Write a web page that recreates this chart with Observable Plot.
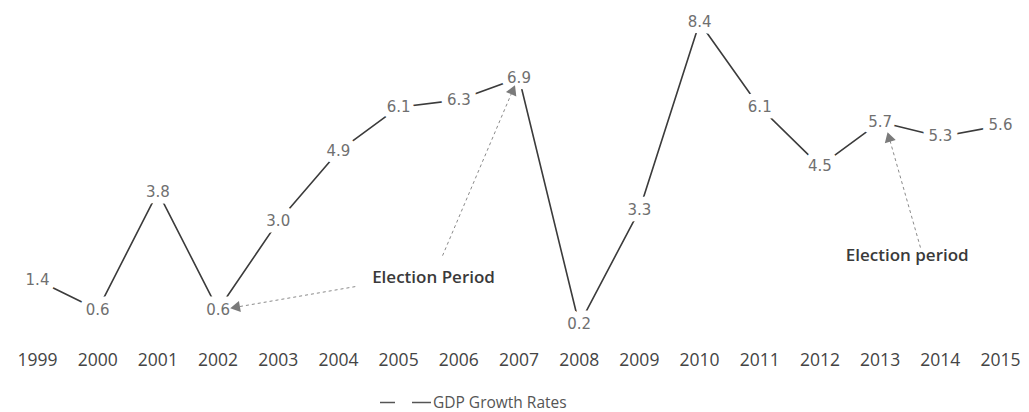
<!DOCTYPE html>
<html>
<head>
<meta charset="utf-8">
<script src="https://cdn.jsdelivr.net/npm/d3@7"></script>
<script src="https://cdn.jsdelivr.net/npm/@observablehq/plot@0.6"></script>
<style>
  body { margin: 0; background: #fff; }
  #legend { position: relative; width: 1029px; height: 20px; font: 15.5px "Open Sans", sans-serif; color: #555; }
  #legend svg { position: absolute; left: 376px; top: 0; }
  #legend span { position: absolute; left: 433px; top: 0; line-height: 20px; }
</style>
</head>
<body>
<div id="chart"></div>
<div id="legend">
  <svg width="60" height="20"><line x1="4" x2="19" y1="10.5" y2="10.5" stroke="#555" stroke-width="1.5"/><line x1="36" x2="55" y1="10.5" y2="10.5" stroke="#555" stroke-width="1.5"/></svg>
  <span>GDP Growth Rates</span>
</div>
<script>
// Annual GDP growth rates (%)
const years = [1999, 2000, 2001, 2002, 2003, 2004, 2005, 2006, 2007, 2008, 2009, 2010, 2011, 2012, 2013, 2014, 2015];
const growth = [1.4, 0.6, 3.8, 0.6, 3.0, 4.9, 6.1, 6.3, 6.9, 0.2, 3.3, 8.4, 6.1, 4.5, 5.7, 5.3, 5.6];

// Election-period callouts (data units: year, growth %)
const noteText = ["Election Period", "Election period"];
const noteYear = [2005.58, 2013.45];
const noteValue = [1.48, 2.07];

// Callout pointers: tail near the note, tip at the labelled year
const arrowFromYear = [2004.28, 2005.73, 2013.67];
const arrowFromValue = [1.23, 2.07, 2.29];
const arrowToYear = [2002.26, 2006.91, 2013.14];
const arrowToValue = [0.66, 6.61, 5.33];

const W = 1029, H = 392, ML = 37, MR = 29, MT = 22, MB = 60.6;
const xDomain = [1999, 2015], yDomain = [0, 8.4];

const data = years.map((year, i) => ({year, gdp: growth[i]}));
const notes = noteText.map((text, i) => ({text, x: noteYear[i], y: noteValue[i]}));
const arrows = arrowFromYear.map((x1, i) => ({x1, y1: arrowFromValue[i], x2: arrowToYear[i], y2: arrowToValue[i]}));

// Pixel-space helpers (same domain/range as the plot) to orient arrowheads
const sx = d3.scaleLinear(xDomain, [ML, W - MR]);
const sy = d3.scaleLinear(yDomain, [H - MB, MT]);
const heads = arrows.map(a => {
  const dx = sx(a.x2) - sx(a.x1), dy = sy(a.y2) - sy(a.y1);
  const len = Math.hypot(dx, dy);
  const px = sx(a.x2) - dx / len * 3, py = sy(a.y2) - dy / len * 3;
  return {x: sx.invert(px), y: sy.invert(py), rot: Math.atan2(dx, -dy) * 180 / Math.PI};
});

const chart = Plot.plot({
  width: W,
  height: H,
  marginLeft: ML,
  marginRight: MR,
  marginTop: MT,
  marginBottom: MB,
  style: {fontFamily: "'Open Sans', sans-serif", fontSize: "17.5px", color: "#444", background: "#fff"},
  x: {type: "linear", domain: xDomain, ticks: years, tickFormat: d => String(d), tickSize: 0, tickPadding: 22, label: null, line: false},
  y: {domain: yDomain, axis: null},
  marks: [
    Plot.line(data, {x: "year", y: "gdp", stroke: "#3b3b3b", strokeWidth: 1.6}),
    Plot.link(arrows, {x1: "x1", y1: "y1", x2: "x2", y2: "y2", stroke: "#8a8a8a", strokeWidth: 1, strokeDasharray: "3,3"}),
    Plot.text(data, {x: "year", y: "gdp", text: d => d.gdp.toFixed(1), fill: "#707070", stroke: "#fff", strokeWidth: 13, fontSize: 15, fontFamily: "DejaVu Sans"}),
    Plot.dot(heads, {x: "x", y: "y", symbol: "triangle", r: 4.2, fill: "#7a7a7a", rotate: "rot"}),
    Plot.text(notes, {x: "x", y: "y", text: "text", fontSize: 17, fontWeight: 600, fill: "#3a3a3a", fontFamily: "'Open Sans', sans-serif"})
  ]
});
document.getElementById("chart").appendChild(chart);
</script>
</body>
</html>
